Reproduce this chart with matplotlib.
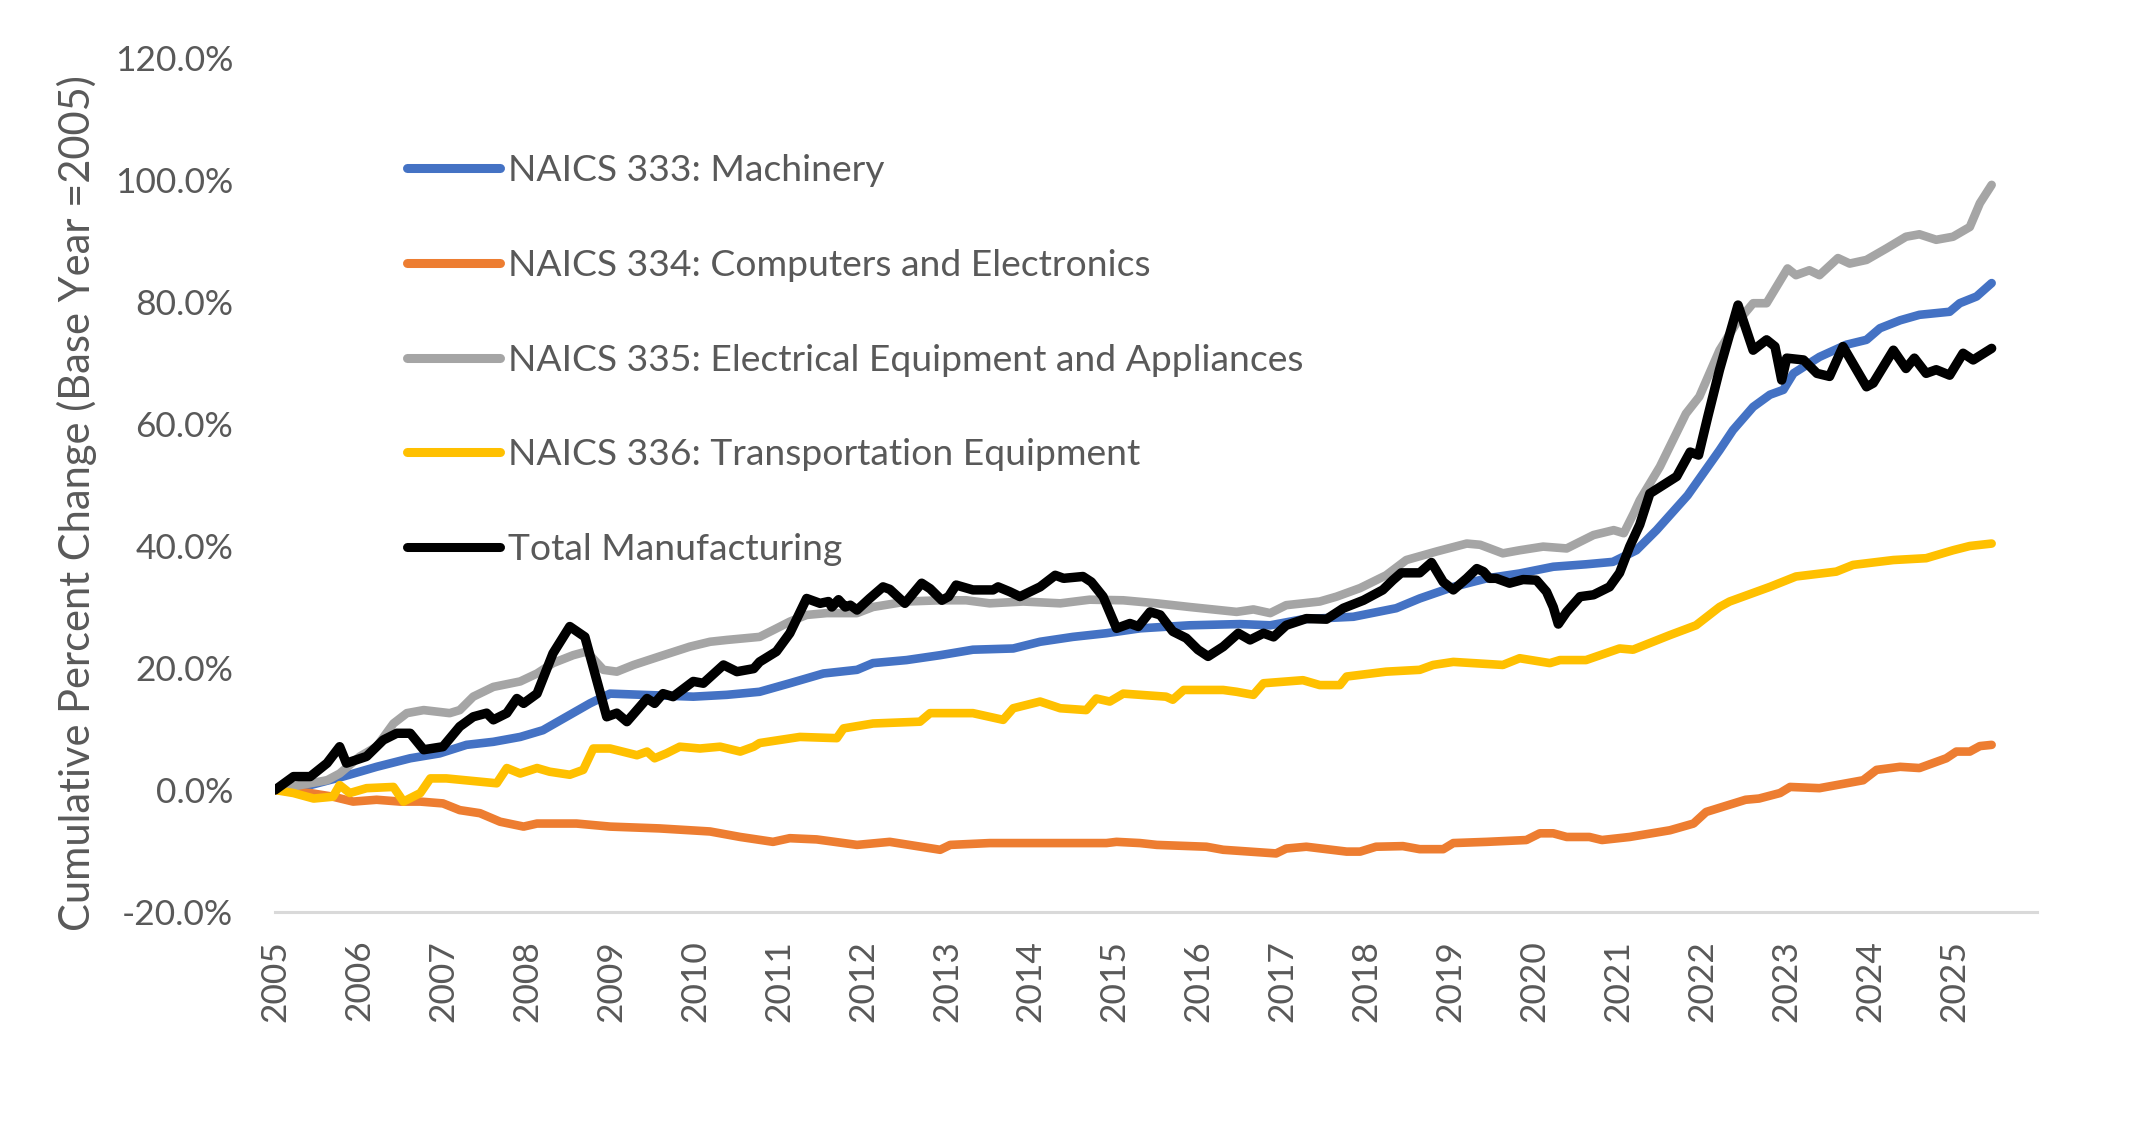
import matplotlib
matplotlib.use("Agg")
import matplotlib.pyplot as plt
import numpy as np

plt.rcParams['font.family'] = ['Lato', 'DejaVu Sans']

# ---------------- data (decimal year, cumulative % change) ----------------
mach_x = [2005.0, 2005.42, 2005.81, 2006.21, 2006.61, 2006.96, 2007.28, 2007.6, 2007.92,
          2008.19, 2008.47, 2008.75, 2008.99, 2009.38, 2009.98, 2010.38, 2010.77, 2011.13,
          2011.53, 2011.93, 2012.12, 2012.52, 2012.92, 2013.31, 2013.79, 2014.11, 2014.5,
          2014.9, 2015.3, 2015.89, 2016.49, 2016.85, 2017.24, 2017.84, 2018.35, 2018.63,
          2019.03, 2019.43, 2019.82, 2020.22, 2020.61, 2020.93, 2021.21, 2021.45, 2021.82,
          2022.2, 2022.36, 2022.6, 2022.8, 2022.96, 2023.08, 2023.39, 2023.71, 2023.95,
          2024.11, 2024.35, 2024.58, 2024.94, 2025.06, 2025.26, 2025.44]
mach_y = [0.0, 0.8, 2.2, 3.8, 5.2, 6.0, 7.4, 7.9, 8.7,
          9.8, 12.0, 14.2, 15.8, 15.6, 15.3, 15.6, 16.1, 17.5,
          19.1, 19.7, 20.8, 21.3, 22.1, 23.0, 23.2, 24.3, 25.1,
          25.7, 26.5, 27.0, 27.2, 27.0, 28.0, 28.4, 29.8, 31.4,
          33.3, 34.7, 35.5, 36.6, 37.0, 37.4, 39.3, 42.6, 48.3,
          55.7, 59.0, 62.8, 64.8, 65.6, 68.3, 71.0, 73.0, 73.8,
          75.7, 77.0, 77.9, 78.4, 79.8, 80.9, 83.1]

comp_x = [2005.0, 2005.42, 2005.69, 2005.93, 2006.21, 2006.49, 2006.73, 2007.0, 2007.2,
          2007.44, 2007.68, 2007.96, 2008.12, 2008.59, 2008.99, 2009.58, 2010.18, 2010.54,
          2010.93, 2011.13, 2011.45, 2011.93, 2012.32, 2012.92, 2013.04, 2013.51, 2014.11,
          2014.9, 2015.02, 2015.3, 2015.5, 2016.09, 2016.29, 2016.92, 2017.04, 2017.28,
          2017.76, 2017.92, 2018.11, 2018.43, 2018.63, 2018.91, 2019.03, 2019.43, 2019.9,
          2020.06, 2020.22, 2020.38, 2020.65, 2020.8, 2021.13, 2021.61, 2021.89, 2022.04,
          2022.51, 2022.67, 2022.92, 2023.04, 2023.39, 2023.91, 2024.07, 2024.35, 2024.58,
          2024.9, 2025.02, 2025.18, 2025.3, 2025.44]
comp_y = [0.0, -0.5, -1.1, -1.9, -1.6, -1.9, -1.9, -2.2, -3.3,
          -3.8, -5.2, -6.0, -5.5, -5.5, -6.0, -6.3, -6.8, -7.7,
          -8.5, -7.9, -8.1, -9.0, -8.5, -9.8, -9.0, -8.7, -8.7,
          -8.7, -8.5, -8.7, -9.0, -9.3, -9.8, -10.4, -9.6, -9.3,
          -10.1, -10.1, -9.3, -9.2, -9.7, -9.7, -8.7, -8.5, -8.2,
          -7.1, -7.1, -7.7, -7.7, -8.2, -7.7, -6.6, -5.5, -3.6,
          -1.6, -1.4, -0.5, 0.5, 0.3, 1.6, 3.3, 3.8, 3.6,
          5.2, 6.3, 6.3, 7.2, 7.4]

elec_x = [2005.0, 2005.3, 2005.62, 2005.77, 2006.01, 2006.21, 2006.41, 2006.57, 2006.77,
          2007.08, 2007.2, 2007.36, 2007.6, 2007.92, 2008.12, 2008.31, 2008.55, 2008.71,
          2008.91, 2009.07, 2009.27, 2009.58, 2009.94, 2010.18, 2010.38, 2010.77, 2010.93,
          2011.13, 2011.33, 2011.57, 2011.93, 2012.12, 2012.52, 2012.92, 2013.23, 2013.51,
          2013.91, 2014.35, 2014.7, 2015.1, 2015.5, 2015.89, 2016.17, 2016.45, 2016.65,
          2016.85, 2017.04, 2017.44, 2017.64, 2017.92, 2018.23, 2018.47, 2018.83, 2019.19,
          2019.35, 2019.62, 2019.82, 2020.1, 2020.38, 2020.7, 2020.94, 2021.06, 2021.18,
          2021.25, 2021.49, 2021.8, 2021.96, 2022.2, 2022.4, 2022.6, 2022.76, 2023.01,
          2023.11, 2023.27, 2023.39, 2023.61, 2023.75, 2023.95, 2024.19, 2024.42, 2024.58,
          2024.78, 2024.98, 2025.18, 2025.3, 2025.44]
elec_y = [0.0, 0.8, 1.6, 2.7, 5.5, 7.1, 10.9, 12.6, 13.1,
          12.6, 13.1, 15.3, 16.9, 17.8, 19.1, 20.8, 22.1, 22.7,
          19.7, 19.4, 20.5, 21.9, 23.5, 24.3, 24.6, 25.1, 26.2,
          27.6, 28.7, 29.0, 29.0, 30.0, 30.9, 31.1, 31.1, 30.6,
          30.9, 30.6, 31.2, 31.1, 30.6, 30.0, 29.6, 29.2, 29.6,
          29.0, 30.3, 30.9, 31.7, 33.1, 35.2, 37.7, 39.1, 40.4,
          40.2, 38.8, 39.3, 39.9, 39.6, 41.8, 42.6, 42.1, 45.4,
          47.5, 53.0, 61.7, 64.5, 72.1, 76.5, 79.8, 79.8, 85.5,
          84.4, 85.2, 84.4, 87.2, 86.3, 86.9, 88.8, 90.7, 91.1,
          90.2, 90.7, 92.3, 96.2, 99.2]

trans_x = [2005.0, 2005.22, 2005.46, 2005.69, 2005.77, 2005.89, 2006.09, 2006.41, 2006.53,
           2006.73, 2006.85, 2007.04, 2007.64, 2007.76, 2007.92, 2008.12, 2008.27, 2008.51,
           2008.67, 2008.79, 2008.99, 2009.31, 2009.43, 2009.52, 2009.66, 2009.82, 2010.06,
           2010.3, 2010.54, 2010.7, 2010.77, 2011.25, 2011.69, 2011.77, 2012.12, 2012.68,
           2012.8, 2013.31, 2013.67, 2013.79, 2014.11, 2014.35, 2014.66, 2014.78, 2014.94,
           2015.1, 2015.61, 2015.69, 2015.82, 2016.29, 2016.45, 2016.65, 2016.77, 2017.24,
           2017.44, 2017.68, 2017.76, 2018.23, 2018.63, 2018.79, 2019.03, 2019.62, 2019.82,
           2020.18, 2020.3, 2020.61, 2021.01, 2021.17, 2021.61, 2021.92, 2022.2, 2022.32,
           2022.8, 2023.11, 2023.59, 2023.79, 2024.27, 2024.66, 2024.98, 2025.18, 2025.44]
trans_y = [0.0, -0.5, -1.4, -1.1, 0.8, -0.5, 0.3, 0.5, -1.9,
           -0.5, 1.9, 1.9, 1.1, 3.6, 2.7, 3.6, 3.0, 2.5,
           3.3, 6.8, 6.8, 5.7, 6.3, 5.2, 6.0, 7.1, 6.8,
           7.1, 6.3, 7.1, 7.7, 8.7, 8.5, 10.1, 10.9, 11.2,
           12.6, 12.6, 11.5, 13.4, 14.5, 13.4, 13.1, 15.0, 14.5,
           15.8, 15.3, 14.8, 16.4, 16.4, 16.1, 15.6, 17.5, 18.0,
           17.2, 17.2, 18.6, 19.4, 19.7, 20.5, 21.0, 20.5, 21.6,
           20.8, 21.3, 21.3, 23.2, 23.0, 25.4, 27.0, 30.0, 30.9,
           33.3, 35.0, 35.8, 36.9, 37.7, 38.0, 39.3, 40.0, 40.4]

total_x = [2005.0, 2005.22, 2005.42, 2005.62, 2005.77, 2005.85, 2006.09, 2006.29, 2006.45,
           2006.61, 2006.77, 2007.0, 2007.2, 2007.36, 2007.52, 2007.6, 2007.76, 2007.88,
           2007.96, 2008.12, 2008.31, 2008.51, 2008.69, 2008.95, 2009.07, 2009.19, 2009.43,
           2009.52, 2009.62, 2009.74, 2009.98, 2010.1, 2010.34, 2010.5, 2010.7, 2010.77,
           2010.97, 2011.13, 2011.33, 2011.49, 2011.59, 2011.63, 2011.71, 2011.79, 2011.85,
           2011.93, 2012.08, 2012.24, 2012.32, 2012.5, 2012.7, 2012.8, 2012.94, 2013.02,
           2013.11, 2013.31, 2013.55, 2013.61, 2013.75, 2013.87, 2014.11, 2014.29, 2014.39,
           2014.62, 2014.72, 2014.86, 2015.02, 2015.18, 2015.28, 2015.42, 2015.54, 2015.69,
           2015.85, 2015.99, 2016.11, 2016.29, 2016.47, 2016.61, 2016.77, 2016.89, 2017.04,
           2017.28, 2017.52, 2017.72, 2017.96, 2018.19, 2018.31, 2018.41, 2018.63, 2018.77,
           2018.91, 2019.03, 2019.19, 2019.31, 2019.39, 2019.46, 2019.54, 2019.7, 2019.86,
           2020.02, 2020.14, 2020.22, 2020.28, 2020.38, 2020.54, 2020.7, 2020.89, 2021.01,
           2021.13, 2021.25, 2021.37, 2021.53, 2021.69, 2021.85, 2021.95, 2022.06, 2022.2,
           2022.42, 2022.6, 2022.76, 2022.86, 2022.94, 2023.0, 2023.2, 2023.36, 2023.51,
           2023.67, 2023.95, 2024.03, 2024.27, 2024.42, 2024.52, 2024.66, 2024.78, 2024.94,
           2025.1, 2025.22, 2025.44]
total_y = [0.0, 2.2, 2.2, 4.4, 7.1, 4.4, 5.5, 8.2, 9.3,
           9.3, 6.6, 7.1, 10.4, 12.0, 12.6, 11.5, 12.6, 15.0,
           14.2, 15.8, 22.4, 26.8, 25.1, 12.0, 12.6, 11.2, 15.0,
           14.2, 15.8, 15.3, 17.8, 17.5, 20.5, 19.4, 19.9, 21.0,
           22.7, 25.7, 31.4, 30.6, 30.9, 30.0, 31.2, 30.0, 30.3,
           29.5, 31.4, 33.3, 32.9, 30.6, 33.9, 33.0, 31.1, 31.7,
           33.6, 32.8, 32.8, 33.3, 32.5, 31.7, 33.3, 35.2, 34.7,
           35.0, 34.1, 31.7, 26.5, 27.3, 26.8, 29.2, 28.7, 26.0,
           24.9, 23.0, 21.9, 23.5, 25.7, 24.6, 25.7, 25.1, 27.0,
           28.1, 28.0, 29.8, 31.1, 32.8, 34.4, 35.6, 35.6, 37.3,
           34.1, 32.8, 34.7, 36.3, 35.8, 34.7, 34.7, 33.9, 34.5,
           34.4, 32.5, 30.0, 27.2, 29.2, 31.7, 32.0, 33.3, 35.6,
           39.9, 43.5, 48.6, 50.0, 51.4, 55.4, 54.9, 61.2, 68.9,
           79.5, 72.1, 73.8, 72.7, 67.2, 70.8, 70.5, 68.3, 67.8,
           72.7, 66.1, 66.7, 72.1, 69.1, 70.8, 68.3, 68.9, 68.0,
           71.6, 70.5, 72.4]

labels = ["NAICS 333: Machinery",
          "NAICS 334: Computers and Electronics",
          "NAICS 335: Electrical Equipment and Appliances",
          "NAICS 336: Transportation Equipment",
          "Total Manufacturing"]
year_ticks = list(range(2005, 2026))
y_ticks = [-20, 0, 20, 40, 60, 80, 100, 120]

# ---------------- figure ----------------
W, H = 2145, 1133
fig = plt.figure(figsize=(W / 100, H / 100), dpi=100)
ax = fig.add_axes([275 / W, 1 - 912 / H, (2037 - 275) / W, (912 - 58) / H])

txt = '#595959'
series = [(mach_x, mach_y, '#4472C4', 6.2),
          (comp_x, comp_y, '#ED7D31', 6.2),
          (elec_x, elec_y, '#A5A5A5', 6.2),
          (trans_x, trans_y, '#FFC000', 6.2),
          (total_x, total_y, '#000000', 6.8)]
for (xs, ys, c, lw), lab in zip(series, labels):
    ax.plot(xs, ys, color=c, lw=lw, label=lab, solid_capstyle='round',
            solid_joinstyle='round')

ax.set_xlim(2005, 2025.98)
ax.set_ylim(-20, 120)
ax.set_yticks(y_ticks)
ax.set_yticklabels([f"{v:.1f}%" for v in y_ticks])
ax.set_xticks(year_ticks)
ax.set_xticklabels([str(y) for y in year_ticks])

for s in ['top', 'right', 'left']:
    ax.spines[s].set_visible(False)
ax.spines['bottom'].set_color('#D9D9D9')
ax.spines['bottom'].set_linewidth(2.2)
ax.spines['bottom'].set_position(('data', -20))

ax.tick_params(axis='y', length=0, pad=30, labelsize=25.5, labelcolor=txt)
ax.tick_params(axis='x', length=0, pad=20, labelsize=25.5, labelcolor=txt,
               labelrotation=90)

ax.set_ylabel("Cumulative Percent Change (Base Year =2005)", fontsize=30, color=txt)
ax.yaxis.set_label_coords(-0.101, 0.479)

leg = ax.legend(loc='upper left', bbox_to_anchor=(407 / W, 1 - 154 / H),
                bbox_transform=fig.transFigure, frameon=False, fontsize=26.8,
                labelspacing=1.66, handlelength=2.5, handletextpad=0.22,
                borderpad=0, borderaxespad=0)
for t in leg.get_texts():
    t.set_color(txt)
for l in leg.get_lines():
    l.set_linewidth(6.5)

fig.savefig("out.png", dpi=100)
